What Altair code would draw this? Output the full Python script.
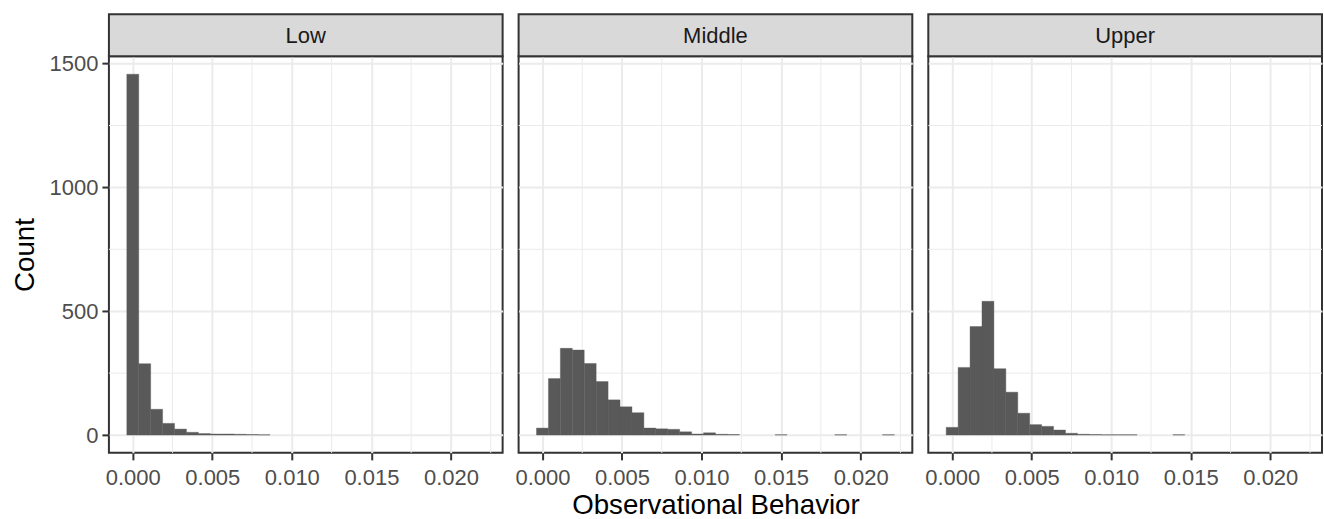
import altair as alt
import pandas as pd

# ---- data ----
groups = ["Low", "Middle", "Upper"]
bin_width = 0.00075  # histogram bin width (30 bins), bins centred on multiples of it
low_counts = [1457, 288, 104, 47, 24, 11, 6, 4, 4, 3, 2, 1, 0, 0, 0,
              0, 0, 0, 0, 0, 0, 0, 0, 0, 0, 0, 0, 0, 0, 0]
middle_counts = [28, 228, 350, 343, 289, 216, 142, 114, 90, 28, 25, 23, 13, 4, 9,
                 3, 2, 0, 0, 0, 1, 0, 0, 0, 0, 1, 0, 0, 0, 1]
upper_counts = [31, 273, 438, 540, 268, 173, 88, 42, 35, 20, 7, 3, 2, 1, 1,
                1, 0, 0, 0, 1, 0, 0, 0, 0, 0, 0, 0, 0, 0, 0]
x_ticks = [0.0, 0.005, 0.010, 0.015, 0.020]
x_minor = [0.0025, 0.0075, 0.0125, 0.0175, 0.0225]
y_ticks = [0, 500, 1000, 1500]
y_minor = [250, 750, 1250]
x_domain = [-0.0015, 0.02325]
y_domain = [-72, 1530]

PANEL_W = 394
PANEL_H = 397
STRIP_H = 42
FONT = "Liberation Sans"


def panel(name, counts, first, middle):
    df = pd.DataFrame({"bin": list(range(len(counts))), "count": counts})
    df["x0"] = (df["bin"] - 0.5) * bin_width
    df["x1"] = (df["bin"] + 0.5) * bin_width

    xscale = alt.Scale(domain=x_domain, nice=False, zero=False)
    yscale = alt.Scale(domain=y_domain, nice=False, zero=False)

    xaxis = alt.Axis(
        values=x_ticks, format=".3f", grid=True, gridColor="#EBEBEB", gridWidth=2,
        ticks=True, tickColor="#333333", tickWidth=2, tickSize=7,
        labelFontSize=22, labelColor="#4D4D4D", labelPadding=8, labelFont=FONT,
        domain=False,
        title="Observational Behavior" if middle else None,
        titleFontSize=27.7, titleColor="#000000", titleFontWeight="normal",
        titlePadding=3, titleFont=FONT,
    )
    if first:
        yaxis = alt.Axis(
            values=y_ticks, format="d", grid=True, gridColor="#EBEBEB", gridWidth=2,
            ticks=True, tickColor="#333333", tickWidth=2, tickSize=7,
            labelFontSize=22, labelColor="#4D4D4D", labelPadding=4, labelFont=FONT,
            domain=False, title="Count", titleFontSize=27.7, titleColor="#000000",
            titleFontWeight="normal", titlePadding=10, titleFont=FONT,
        )
    else:
        yaxis = alt.Axis(
            values=y_ticks, grid=True, gridColor="#EBEBEB", gridWidth=2,
            ticks=False, labels=False, domain=False, title=None,
            minExtent=0, maxExtent=0, labelPadding=0, tickSize=0,
        )

    xm = alt.Chart(pd.DataFrame({"xm": x_minor})).mark_rule(
        color="#EBEBEB", strokeWidth=1
    ).encode(x=alt.X("xm:Q", scale=xscale, axis=xaxis))

    ym = alt.Chart(pd.DataFrame({"ym": y_minor})).mark_rule(
        color="#EBEBEB", strokeWidth=1
    ).encode(y=alt.Y("ym:Q", scale=yscale, axis=yaxis))

    bars = alt.Chart(df).transform_filter(
        "datum.count > 0"
    ).mark_rect(
        fill="#595959", stroke="#595959", strokeWidth=0.4
    ).encode(
        x=alt.X("x0:Q", scale=xscale, axis=xaxis),
        x2="x1:Q",
        y=alt.Y("count:Q", scale=yscale, axis=yaxis),
        y2=alt.datum(0),
    )

    lab = pd.DataFrame({"label": [name]})
    strip = alt.Chart(lab).mark_rect(
        fill="#D9D9D9", stroke="#333333", strokeWidth=2
    ).encode(
        x=alt.value(0), x2=alt.value(PANEL_W),
        y=alt.value(-STRIP_H), y2=alt.value(0),
    )
    strip_text = alt.Chart(lab).mark_text(
        fontSize=22, color="#1A1A1A", baseline="middle", align="center", font=FONT
    ).encode(
        x=alt.value(PANEL_W / 2), y=alt.value(-STRIP_H / 2 + 1), text="label:N"
    )

    return alt.layer(xm, ym, bars, strip, strip_text).properties(
        width=PANEL_W, height=PANEL_H
    )


chart = alt.hconcat(
    panel(groups[0], low_counts, True, False),
    panel(groups[1], middle_counts, False, True),
    panel(groups[2], upper_counts, False, False),
    spacing=9,
).properties(
    padding={"left": 10, "top": 12, "right": 0, "bottom": 0},
    background="white",
).configure(
    font=FONT
).configure_view(
    stroke="#333333", strokeWidth=2
)

chart.save("out.html", embed_options={"renderer": "svg", "actions": False})
